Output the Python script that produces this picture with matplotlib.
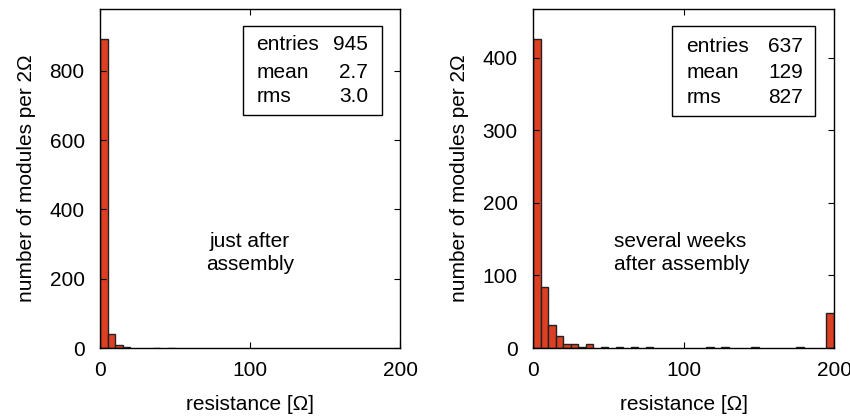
import matplotlib.pyplot as plt
from matplotlib.patches import Rectangle

plt.rcParams['font.family'] = ['Liberation Sans', 'DejaVu Sans']

# bin edges (5 ohm wide) and counts
BIN_WIDTH = 5
left_bins = [0, 5, 10, 15, 35, 45]
left_counts = [891, 40, 10, 2, 1, 1]

right_bins = [0, 5, 10, 15, 20, 25, 30, 35, 45, 55, 65, 75, 115, 125, 145, 175, 195]
right_counts = [426, 84, 32, 16, 5, 6, 1, 5, 1, 1, 1, 2, 2, 1, 2, 2, 48]

left_stats = [('entries', '945'), ('mean', '2.7'), ('rms', '3.0')]
right_stats = [('entries', '637'), ('mean', '129'), ('rms', '827')]

BAR_COLOR = '#dc3f22'
FS = 15

fig = plt.figure(figsize=(8.5, 4.18), dpi=100)
W, H = 850, 418
ax1 = fig.add_axes([100 / W, 1 - 348 / H, 300 / W, 339 / H])
ax2 = fig.add_axes([533 / W, 1 - 348 / H, 301 / W, 339 / H])


def draw_panel(ax, bins, counts, ylim, yticks, stats, box, rows):
    ax.bar(bins, counts, width=BIN_WIDTH, align='edge', color=BAR_COLOR,
           edgecolor='#222222', linewidth=1.0)
    ax.set_xlim(0, 200)
    ax.set_ylim(0, ylim)
    ax.set_xticks([0, 100, 200])
    ax.set_yticks(yticks)
    ax.tick_params(direction='in', top=True, right=True, length=4,
                   labelsize=FS)
    ax.tick_params(axis='x', pad=9)
    ax.tick_params(axis='y', pad=11)
    for s in ax.spines.values():
        s.set_linewidth(1.0)
    ax.set_xlabel('resistance [Ω]', fontsize=FS, labelpad=11)
    ax.set_ylabel('number of modules per 2Ω', fontsize=FS, labelpad=10)

    # stats box
    x0, x1, y0, y1 = box
    ax.add_patch(Rectangle((x0, y0), x1 - x0, y1 - y0, transform=ax.transAxes,
                           fill=False, edgecolor='black', linewidth=1.0))
    lx, rx = rows[0], rows[1]
    for (lab, val), y in zip(stats, rows[2]):
        ax.text(lx, y, lab, transform=ax.transAxes, fontsize=FS,
                ha='left', va='center')
        ax.text(rx, y, val, transform=ax.transAxes, fontsize=FS,
                ha='right', va='center')


draw_panel(ax1, left_bins, left_counts, 978, [0, 200, 400, 600, 800],
           left_stats, (0.477, 0.94, 0.687, 0.95),
           (0.522, 0.893, [0.894, 0.814, 0.743]))
draw_panel(ax2, right_bins, right_counts, 467, [0, 100, 200, 300, 400],
           right_stats, (0.462, 0.937, 0.684, 0.95),
           (0.51, 0.897, [0.889, 0.812, 0.738]))

ax1.text(100, 274, 'just after\nassembly', fontsize=FS, ha='center',
         va='center', linespacing=1.25)
ax2.text(54, 131, 'several weeks\nafter assembly', fontsize=FS, ha='left',
         va='center', linespacing=1.25)

fig.savefig('out.png', dpi=100)
